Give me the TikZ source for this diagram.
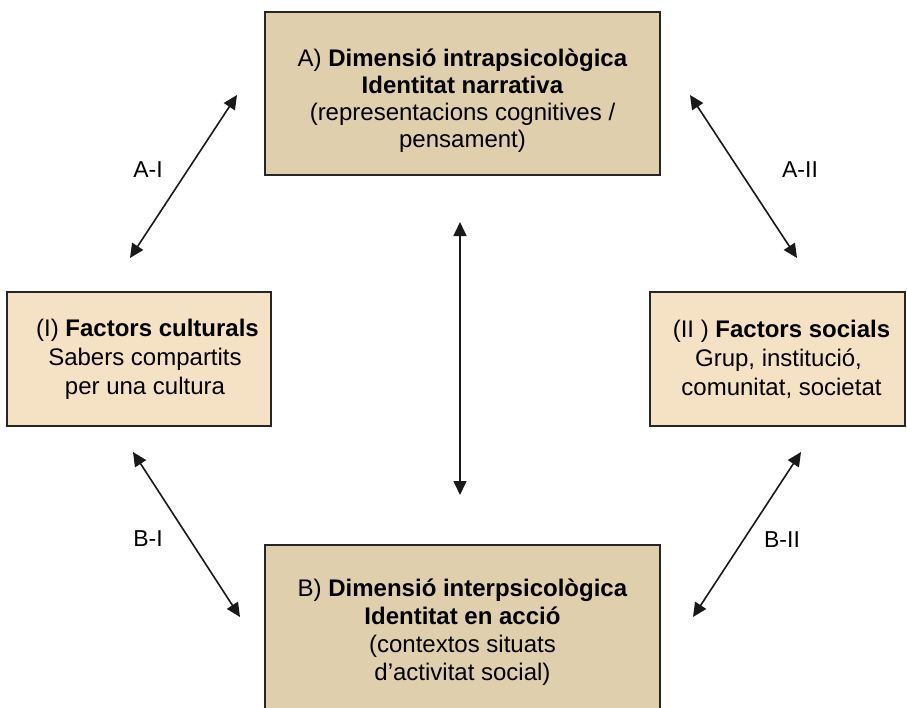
\documentclass[tikz,border=0pt]{standalone}
\usepackage{fontspec}
\setmainfont{Liberation Sans}
\usetikzlibrary{arrows.meta}
\definecolor{darkbox}{HTML}{E0CFAD}
\definecolor{lightbox}{HTML}{F5E1C3}
\begin{document}
\begin{tikzpicture}[x=1pt,y=-1pt,
  box/.style={draw=black!85, line width=1.5pt, align=center, inner sep=0pt},
  dbl/.style={{Triangle[length=14pt,width=13pt]}-{Triangle[length=14pt,width=13pt]},
    line width=1.6pt, draw=black!90},
  lab/.style={font=\fontsize{23}{25}\selectfont}]
\clip (0,0) rectangle (907,707);
\useasboundingbox (0,0) rectangle (907,707);
\fill[white] (0,0) rectangle (907,707);

\node[box, fill=darkbox, minimum width=395pt, minimum height=163pt,
  font=\fontsize{24}{27}\selectfont] (A) at (462.5,93.5)
  {\rule{0pt}{31pt}A) \textbf{Dimensió intrapsicològica}\\ \textbf{Identitat narrativa}\\ (representacions cognitives /\\ pensament)};
\node[box, fill=darkbox, minimum width=395pt, minimum height=174pt,
  font=\fontsize{24}{28}\selectfont] (B) at (462.5,632)
  {B) \textbf{Dimensió interpsicològica}\\ \textbf{Identitat en acció}\\ (contextos situats\\ d’activitat social)};
\node[box, fill=lightbox, minimum width=264pt, minimum height=134pt,
  font=\fontsize{24}{29}\selectfont] (I) at (139,359)
  {\hspace*{17pt}(I) \textbf{Factors culturals}\\ \hspace*{12pt}Sabers compartits\\ \hspace*{12pt}per una cultura};
\node[box, fill=lightbox, minimum width=255pt, minimum height=134pt,
  font=\fontsize{24}{29}\selectfont] (II) at (777.5,359)
  {\hspace*{8pt}(II ) \textbf{Factors socials}\\ \hspace*{2pt}Grup, institució,\\ \hspace*{8pt}comunitat, societat};

\coordinate (ai1) at (130,258);
\coordinate (ai2) at (237,95);
\coordinate (aii1) at (690,95);
\coordinate (aii2) at (797,258);
\coordinate (v1) at (460,222);
\coordinate (v2) at (460,495);
\coordinate (bi1) at (133,452);
\coordinate (bi2) at (240,617);
\coordinate (bii1) at (801,452);
\coordinate (bii2) at (693,617);

\draw[dbl] (ai1) -- (ai2);
\draw[dbl] (aii1) -- (aii2);
\draw[dbl] (v1) -- (v2);
\draw[dbl] (bi1) -- (bi2);
\draw[dbl] (bii1) -- (bii2);

\node[lab] (lai) at (148,170) {A-I};
\node[lab] (laii) at (800,170) {A-II};
\node[lab] (lbi) at (148,539) {B-I};
\node[lab] (lbii) at (782,540) {B-II};
\end{tikzpicture}
\end{document}
